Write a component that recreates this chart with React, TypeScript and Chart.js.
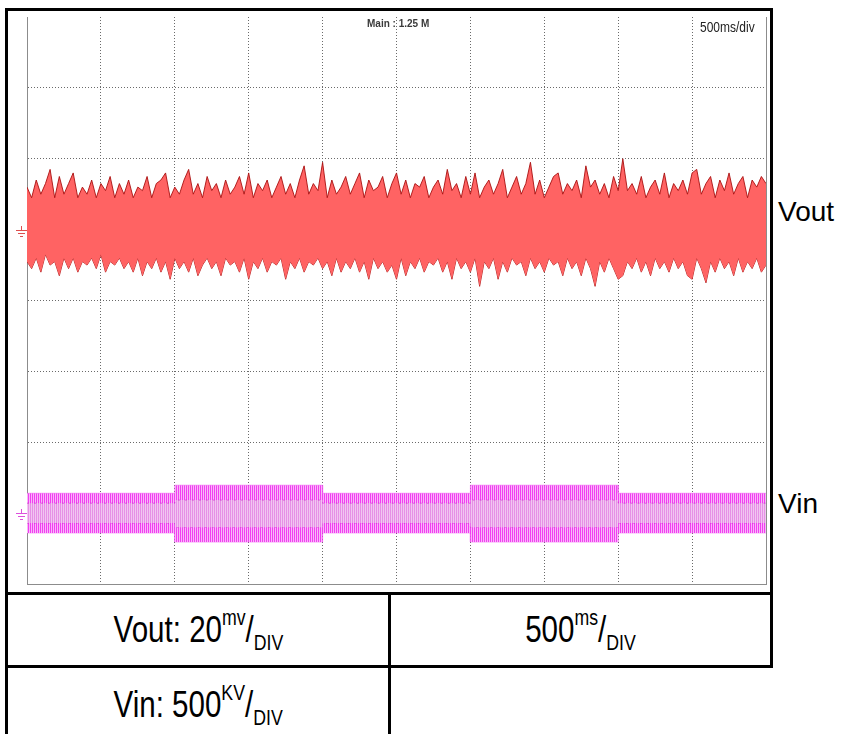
import React, { useEffect, useRef } from "react";
import { Chart, registerables } from "chart.js";

Chart.register(...registerables);

// ---------- data ----------
const sampleStepMs = 31.25; // spacing of the envelope samples along the 5 s record
const timeAxisMinMs = 0;
const timeAxisMaxMs = 5000;
const timePerDivMs = 500;

// Vout ripple envelope (mV, relative to the Vout ground marker), 20 mV/div
const voutUpperMv = [
  12, 9, 14, 10, 13, 17, 9, 15, 10, 13,
  16, 9, 12, 10, 14, 9, 13, 11, 15, 9,
  13, 10, 14, 9, 12, 11, 15, 9, 13, 14,
  16, 9, 12, 10, 14, 17, 10, 13, 9, 15,
  11, 13, 9, 14, 10, 12, 15, 10, 16, 9,
  13, 11, 14, 9, 12, 15, 10, 13, 9, 14,
  18, 10, 13, 11, 19, 9, 14, 10, 12, 15,
  10, 13, 16, 9, 14, 11, 12, 15, 9, 13,
  16, 10, 14, 9, 13, 12, 15, 9, 12, 14,
  10, 17, 11, 13, 9, 15, 10, 16, 9, 12,
  14, 10, 13, 17, 9, 12, 15, 10, 13, 19,
  10, 14, 9, 12, 15, 16, 10, 13, 11, 14,
  9, 18, 12, 14, 10, 13, 9, 15, 11, 20,
  11, 13, 10, 15, 9, 12, 14, 10, 16, 9,
  13, 11, 14, 10, 16, 17, 10, 13, 15, 9,
  14, 11, 16, 10, 13, 15, 9, 14, 12, 15,
  13,
];
const voutLowerMv = [
  -9, -11, -8, -12, -7, -10, -9, -13, -8, -11,
  -8, -12, -9, -10, -8, -11, -7, -12, -9, -10,
  -8, -11, -9, -12, -8, -13, -9, -11, -8, -12,
  -9, -14, -8, -11, -9, -12, -8, -13, -10, -8,
  -11, -9, -13, -8, -10, -9, -12, -8, -14, -9,
  -11, -8, -12, -9, -10, -8, -14, -9, -11, -8,
  -12, -9, -10, -8, -11, -9, -13, -8, -12, -9,
  -11, -8, -12, -9, -14, -8, -11, -9, -12, -10,
  -14, -8, -13, -9, -11, -8, -12, -9, -10, -8,
  -12, -9, -14, -8, -11, -9, -12, -8, -16, -9,
  -11, -8, -14, -9, -12, -8, -10, -9, -13, -8,
  -11, -9, -12, -8, -10, -9, -13, -8, -11, -9,
  -13, -8, -11, -16, -9, -12, -8, -11, -14, -13,
  -9, -11, -8, -12, -9, -13, -8, -11, -9, -12,
  -8, -11, -9, -13, -14, -8, -11, -15, -9, -12,
  -8, -11, -9, -13, -8, -12, -9, -11, -8, -12,
  -10,
];

// Vin ripple bands (KV, relative to the Vin ground marker), 500 KV/div
const vinSegmentStartMs = [0, 1000, 2000, 3000, 4000];
const vinSegmentEndMs = [1000, 2000, 3000, 4000, 5000];
const vinOuterHighKv = [140, 197, 140, 197, 140];
const vinOuterLowKv = [-140, -204, -140, -204, -140];
const vinInnerHighKv = [70, 92, 70, 92, 70];
const vinInnerLowKv = [-70, -100, -70, -100, -70];

// vertical scale placement: ground markers sit 1 div above / 3 div below screen centre
const voutAxisMinMv = -100;
const voutAxisMaxMv = 60;
const voutMvPerDiv = 20;
const vinAxisMinKv = -500;
const vinAxisMaxKv = 3500;

// ---------- texts ----------
const headerLabel = "Main : 1.25 M";
const timebaseLabel = "500ms/div";
const traceNames = ["Vout", "Vin"];
const voutCell = ["Vout: 20", "mv", "DIV"];
const timeCell = ["500", "ms", "DIV"];
const vinCell = ["Vin: 500", "KV", "DIV"];

// ---------- helpers ----------
const envelopePoints = (values: number[]) =>
  values.map((v, i) => ({ x: i * sampleStepMs, y: v }));

const segmentPoints = (levels: number[]) => {
  const pts: { x: number; y: number }[] = [];
  levels.forEach((v, i) => {
    pts.push({ x: vinSegmentStartMs[i], y: v });
    pts.push({ x: vinSegmentEndMs[i], y: v });
  });
  return pts;
};

function stripePattern(colors: string[]) {
  const c = document.createElement("canvas");
  c.width = colors.length;
  c.height = 1;
  const g = c.getContext("2d")!;
  colors.forEach((col, i) => {
    g.fillStyle = col;
    g.fillRect(i, 0, 1, 1);
  });
  return g.createPattern(c, "repeat");
}

const drawGround = (ctx: CanvasRenderingContext2D, left: number, y: number, color: string) => {
  ctx.save();
  ctx.fillStyle = color;
  const y0 = Math.round(y);
  const c = Math.round(left) - 6;
  // stem, then three bars of decreasing width
  ctx.fillRect(c, y0 - 4, 1, 4);
  ctx.fillRect(c - 5, y0, 11, 1);
  ctx.fillRect(c - 3, y0 + 3, 7, 1);
  ctx.fillRect(c - 1, y0 + 6, 3, 1);
  ctx.restore();
};

const scopeDecor = {
  id: "scopeDecor",
  afterDraw(chart: any) {
    const { ctx, chartArea, scales } = chart;
    const { left, top, right } = chartArea;
    ctx.save();
    ctx.fillStyle = "#3a3a3a";
    ctx.font = 'bold 10px "Liberation Sans", Arial, sans-serif';
    ctx.textBaseline = "middle";
    ctx.fillText(headerLabel, left + 340, top + 7);

    ctx.fillStyle = "#ffffff";
    ctx.fillRect(right - 69, top + 1, 67, 21);
    ctx.fillStyle = "#222222";
    ctx.translate(right - 66, top + 11);
    ctx.scale(0.8, 1);
    ctx.font = '15px "Liberation Sans", Arial, sans-serif';
    ctx.fillText(timebaseLabel, 0, 0);
    ctx.restore();

    drawGround(ctx, left, scales.yVout.getPixelForValue(0), "#dd5050");
    drawGround(ctx, left, scales.yVin.getPixelForValue(0), "#dc50dc");
  },
};

const gridColor = "#6a6a6a";

function ScopeChart() {
  const ref = useRef<HTMLCanvasElement>(null);
  useEffect(() => {
    if (!ref.current) return;
    const outerPattern = stripePattern(["#f23ef2", "#f7b8f7"]);
    const innerPattern = stripePattern(["#e690e6", "#f1c6f1"]);
    const chart = new Chart(ref.current, {
      type: "line",
      data: {
        datasets: [
          {
            label: traceNames[0] + " max",
            data: envelopePoints(voutUpperMv),
            yAxisID: "yVout",
            borderColor: "rgba(170,16,16,0.9)",
            borderWidth: 1,
            backgroundColor: "#ff6363",
            fill: "+1",
            pointRadius: 0,
            tension: 0,
          },
          {
            label: traceNames[0] + " min",
            data: envelopePoints(voutLowerMv),
            yAxisID: "yVout",
            borderColor: "rgba(170,16,16,0.9)",
            borderWidth: 1,
            fill: false,
            pointRadius: 0,
            tension: 0,
          },
          {
            label: traceNames[1] + " inner max",
            data: segmentPoints(vinInnerHighKv),
            yAxisID: "yVin",
            borderColor: "rgba(200,40,200,0.6)",
            borderWidth: 1,
            borderDash: [2, 5],
            backgroundColor: innerPattern as any,
            fill: "+1",
            pointRadius: 0,
          },
          {
            label: traceNames[1] + " inner min",
            data: segmentPoints(vinInnerLowKv),
            yAxisID: "yVin",
            borderColor: "rgba(200,40,200,0.6)",
            borderWidth: 1,
            borderDash: [2, 5],
            fill: false,
            pointRadius: 0,
          },
          {
            label: traceNames[1] + " max",
            data: segmentPoints(vinOuterHighKv),
            yAxisID: "yVin",
            borderColor: "rgba(240,80,240,0.5)",
            borderWidth: 1,
            backgroundColor: outerPattern as any,
            fill: "+1",
            pointRadius: 0,
          },
          {
            label: traceNames[1] + " min",
            data: segmentPoints(vinOuterLowKv),
            yAxisID: "yVin",
            borderColor: "rgba(240,80,240,0.5)",
            borderWidth: 1,
            fill: false,
            pointRadius: 0,
          },
        ],
      },
      options: {
        animation: false,
        responsive: true,
        maintainAspectRatio: false,
        layout: { padding: { left: 19, top: 6, right: 4, bottom: 8 } },
        plugins: { legend: { display: false }, tooltip: { enabled: false } },
        events: [],
        scales: {
          x: {
            type: "linear",
            min: timeAxisMinMs,
            max: timeAxisMaxMs,
            z: 1,
            ticks: { display: false, stepSize: timePerDivMs },
            grid: { color: gridColor, lineWidth: 1, drawTicks: false },
            border: { display: true, color: "#8c8c8c", width: 1, dash: [1, 2] },
          },
          yVout: {
            type: "linear",
            position: "left",
            min: voutAxisMinMv,
            max: voutAxisMaxMv,
            z: 1,
            ticks: { display: false, stepSize: voutMvPerDiv },
            grid: {
              color: (c: any) => (c.tick && c.tick.value === voutAxisMaxMv ? "rgba(0,0,0,0)" : gridColor),
              lineWidth: 1,
              drawTicks: false,
            },
            border: { display: true, color: "#8c8c8c", width: 1, dash: [1, 2] },
          },
          yVin: {
            type: "linear",
            position: "right",
            min: vinAxisMinKv,
            max: vinAxisMaxKv,
            ticks: { display: false },
            grid: { display: false, drawTicks: false },
            border: { display: true, color: "#8c8c8c", width: 1 },
          },
        },
      },
      plugins: [scopeDecor],
    });
    return () => chart.destroy();
  }, []);
  return <canvas ref={ref} />;
}

const black = "#000";
const line = (l: number, t: number, w: number, h: number): React.CSSProperties => ({
  position: "absolute",
  left: l,
  top: t,
  width: w,
  height: h,
  background: black,
});

const cellText = (parts: string[]) => (
  <span
    style={{
      display: "inline-block",
      transform: "scaleX(0.82)",
      fontFamily: '"Liberation Sans", Arial, sans-serif',
      fontSize: 36,
      lineHeight: 1,
      color: "#000",
      whiteSpace: "nowrap",
    }}
  >
    {parts[0]}
    <span style={{ fontSize: "0.6em", verticalAlign: "0.8em" }}>{parts[1]}</span>/
    <span style={{ fontSize: "0.6em", verticalAlign: "-0.35em" }}>{parts[2]}</span>
  </span>
);

const cellBox = (l: number, t: number, w: number, h: number): React.CSSProperties => ({
  position: "absolute",
  left: l,
  top: t,
  width: w,
  height: h,
  display: "flex",
  alignItems: "center",
  justifyContent: "center",
});

const sideLabel = (t: number): React.CSSProperties => ({
  position: "absolute",
  left: 778,
  top: t,
  fontFamily: '"Liberation Sans", Arial, sans-serif',
  fontSize: 28,
  lineHeight: "28px",
  color: "#000",
});

export default function App() {
  return (
    <div
      style={{
        position: "absolute",
        left: 0,
        top: 0,
        width: 841,
        height: 734,
        background: "#fff",
        overflow: "hidden",
      }}
    >
      <div style={{ position: "absolute", left: 8, top: 11, width: 762, height: 581 }}>
        <ScopeChart />
      </div>
      {/* frame and table rules */}
      <div style={line(5, 8, 768, 3)} />
      <div style={line(5, 8, 3, 726)} />
      <div style={line(770, 8, 3, 660)} />
      <div style={line(5, 592, 768, 3)} />
      <div style={line(5, 665, 768, 3)} />
      <div style={line(388, 592, 3, 142)} />
      {/* table cells */}
      <div style={cellBox(8, 595, 380, 70)}>{cellText(voutCell)}</div>
      <div style={cellBox(391, 595, 379, 70)}>{cellText(timeCell)}</div>
      <div style={cellBox(8, 670, 380, 70)}>{cellText(vinCell)}</div>
      {/* trace names */}
      <div style={sideLabel(198)}>{traceNames[0]}</div>
      <div style={sideLabel(490)}>{traceNames[1]}</div>
    </div>
  );
}
